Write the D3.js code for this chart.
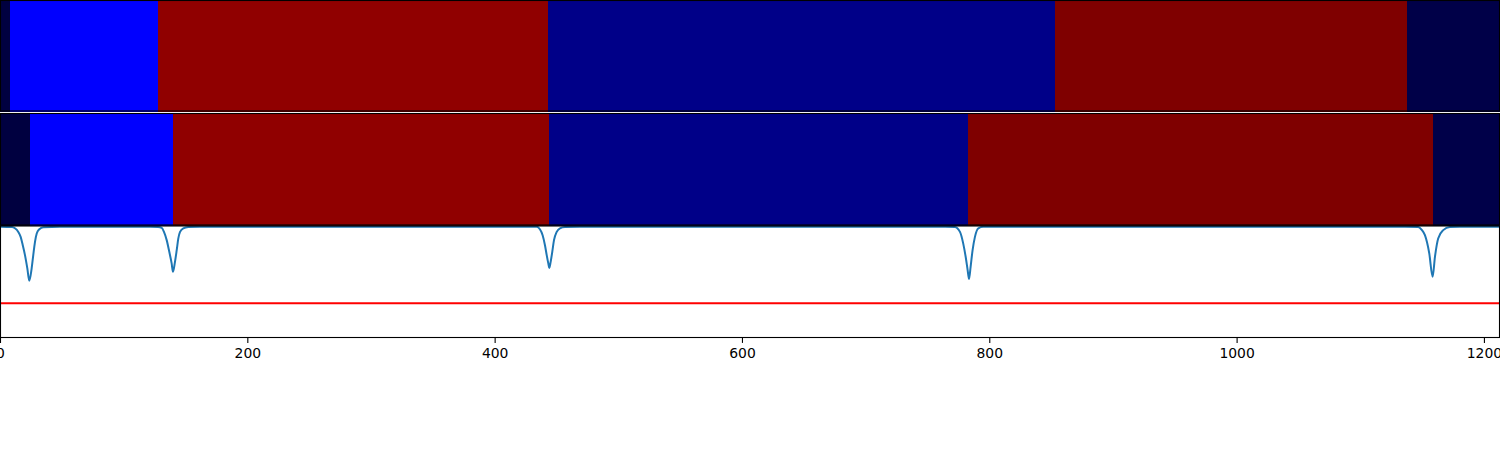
<!DOCTYPE html>
<html>
<head>
<meta charset="utf-8">
<script src="https://cdn.jsdelivr.net/npm/d3@7"></script>
<style>
  html, body { margin: 0; padding: 0; background: #ffffff; }
  svg { display: block; }
</style>
</head>
<body>
<div id="chart"></div>
<script>
// ---------------- DATA ----------------
const xMax = 1213;
const xTicks = [0, 200, 400, 600, 800, 1000, 1200];

// Row 1 (reference segmentation): segment boundaries and colour values
const trueBreaks = [0, 8, 128, 443, 853, 1138, 1213];
const trueValues = [0.0, 0.25, 0.967, 0.094, 1.0, 0.01];

// Row 2 (estimated segmentation)
const predBreaks = [0, 24, 140, 444, 783, 1159, 1213];
const predValues = [0.0, 0.25, 0.967, 0.094, 1.0, 0.012];

// Row 3: score curve (x, value)
const scoreX = [0, 9.7, 12.1, 14.8, 16.7, 18.4, 20.2, 22.1, 23.7, 25.6, 26.9, 28.3, 29.7, 31.8, 35.0, 48.5,
  121.3, 127.8, 130.8, 132.6, 134.8, 136.9, 138.8, 139.9, 141.5, 142.9, 144.2, 145.6, 148.2, 152.3, 161.7,
  424.5, 434.0, 436.6, 438.8, 440.7, 442.1, 443.4, 444.2, 445.3, 446.6, 448.0, 450.2, 452.8, 456.9, 469.0,
  764.2, 772.2, 776.3, 778.9, 780.9, 782.5, 783.6, 784.9, 786.5, 788.4, 791.1, 795.1, 808.6,
  1136.1, 1146.9, 1149.9, 1152.3, 1155.8, 1158.5, 1160.4, 1163.0, 1167.1, 1172.5, 1180.6, 1213];
const scoreY = [0.99, 0.987, 0.975, 0.943, 0.899, 0.825, 0.737, 0.619, 0.509, 0.619, 0.737, 0.855, 0.929, 0.967, 0.985, 0.99,
  0.99, 0.987, 0.979, 0.943, 0.870, 0.766, 0.663, 0.588, 0.677, 0.781, 0.885, 0.943, 0.975, 0.987, 0.99,
  0.99, 0.988, 0.967, 0.914, 0.825, 0.737, 0.663, 0.623, 0.677, 0.766, 0.870, 0.943, 0.975, 0.987, 0.99,
  0.99, 0.987, 0.943, 0.841, 0.722, 0.604, 0.524, 0.633, 0.781, 0.899, 0.975, 0.988, 0.99,
  0.99, 0.987, 0.959, 0.914, 0.752, 0.544, 0.722, 0.885, 0.959, 0.987, 0.99, 0.99];
const threshold = 0.31;

// ---------------- LAYOUT ----------------
const W = 1500, Hfig = 450;
const panels = [
  { top: 0, bottom: 111.5 },
  { top: 113, bottom: 225.5 },
  { top: 225.5, bottom: 338 }
];

const svg = d3.select("#chart").append("svg")
  .attr("width", W).attr("height", Hfig);

const x = d3.scaleLinear().domain([0, xMax]).range([0, W]);

const color = d3.scaleLinear()
  .domain([0, 0.25, 0.5, 0.75, 1])
  .range(["#000040", "#0000ff", "#ffffff", "#ff0000", "#7f0000"])
  .interpolate(d3.interpolateRgb);

function segs(breaks, values) {
  return values.map((v, i) => ({ x0: breaks[i], x1: breaks[i + 1], v }));
}

[[trueBreaks, trueValues], [predBreaks, predValues]].forEach(([b, v], i) => {
  const p = panels[i];
  svg.append("g").selectAll("rect")
    .data(segs(b, v))
    .join("rect")
    .attr("x", d => x(d.x0))
    .attr("width", d => x(d.x1) - x(d.x0))
    .attr("y", p.top)
    .attr("height", p.bottom - p.top)
    .attr("fill", d => color(d.v))
    .attr("shape-rendering", "crispEdges");
});

// Panel 3: score curve
const p3 = panels[2];
const y = d3.scaleLinear().domain([0, 1]).range([p3.bottom, p3.top]);

svg.append("clipPath").attr("id", "clip3")
  .append("rect").attr("x", 0).attr("y", p3.top).attr("width", W).attr("height", p3.bottom - p3.top);

const g3 = svg.append("g").attr("clip-path", "url(#clip3)");

const pts = scoreX.map((d, i) => [d, scoreY[i]]);
g3.append("path")
  .datum(pts)
  .attr("fill", "none")
  .attr("stroke", "#1f77b4")
  .attr("stroke-width", 2)
  .attr("stroke-linejoin", "round")
  .attr("d", d3.line().x(d => x(d[0])).y(d => y(d[1])).curve(d3.curveMonotoneX));

g3.append("line")
  .attr("x1", x(0)).attr("x2", x(xMax))
  .attr("y1", y(threshold)).attr("y2", y(threshold))
  .attr("stroke", "#ff0000")
  .attr("stroke-width", 2);

// Frames
panels.forEach(p => {
  svg.append("rect")
    .attr("x", 0.5).attr("y", p.top + 0.5)
    .attr("width", W - 1).attr("height", p.bottom - p.top - 1)
    .attr("fill", "none")
    .attr("stroke", "#000")
    .attr("stroke-width", 1.1);
});

// X axis
const axis = svg.append("g")
  .attr("transform", `translate(0,${p3.bottom})`)
  .call(d3.axisBottom(x).tickValues(xTicks).tickFormat(d3.format("d"))
    .tickSize(4.9).tickPadding(4.9));
axis.select(".domain").remove();
axis.selectAll(".tick line").attr("stroke", "#000").attr("stroke-width", 1.1);
axis.selectAll(".tick text")
  .attr("fill", "#000")
  .style("font-family", "DejaVu Sans, sans-serif")
  .style("font-size", "13.9px");
</script>
</body>
</html>
